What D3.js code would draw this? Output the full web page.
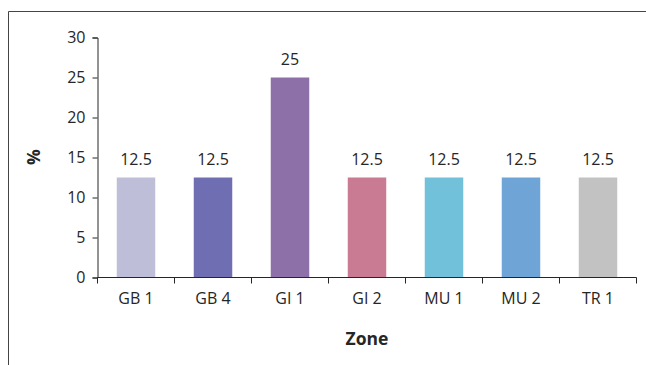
<!DOCTYPE html>
<html>
<head>
<meta charset="utf-8">
<script src="https://cdn.jsdelivr.net/npm/d3@7"></script>
<style>
  html, body { margin: 0; padding: 0; background: #fff; }
  svg { display: block; }
  text { font-family: "Open Sans", "Noto Sans", sans-serif; fill: #262626; }
</style>
</head>
<body>
<svg id="chart" width="646" height="365"></svg>
<script>
// Share of records per zone (%)
const zones = ["GB 1", "GB 4", "GI 1", "GI 2", "MU 1", "MU 2", "TR 1"];
const percents = [12.5, 12.5, 25, 12.5, 12.5, 12.5, 12.5];
const barColors = ["#bebed9", "#6f6eb3", "#8e70a8", "#c97b94", "#72c1da", "#6fa5d6", "#c2c2c2"];
const yTicks = [0, 5, 10, 15, 20, 25, 30];

const svg = d3.select("#chart");
const W = 646, H = 365;
const plot = { left: 97.5, right: 636.5, top: 37.5, bottom: 277.5 };
const labelSize = "16px";
const titleSize = "17.5px";

// outer frame: top and left edges only
svg.append("path")
  .attr("d", `M8.5,${H} V11.5 H${W}`)
  .attr("fill", "none")
  .attr("stroke", "#444")
  .attr("stroke-width", 1);

const x = d3.scaleBand().domain(zones).range([plot.left, plot.right]).padding(0);
const y = d3.scaleLinear().domain([0, 30]).range([plot.bottom, plot.top]);

// bars (half of each band, centered)
const barW = x.bandwidth() * 0.5;
svg.append("g").selectAll("rect")
  .data(zones)
  .join("rect")
  .attr("x", (d) => x(d) + (x.bandwidth() - barW) / 2)
  .attr("width", barW)
  .attr("y", (d, i) => y(percents[i]))
  .attr("height", (d, i) => y(0) - y(percents[i]))
  .attr("fill", (d, i) => barColors[i]);

// value labels
svg.append("g").selectAll("text")
  .data(zones)
  .join("text")
  .attr("x", (d) => x(d) + x.bandwidth() / 2)
  .attr("y", (d, i) => y(percents[i]) - 13)
  .attr("text-anchor", "middle")
  .style("font-size", labelSize)
  .text((d, i) => percents[i]);

// y axis
const yAxis = svg.append("g")
  .attr("transform", `translate(${plot.left},0)`)
  .call(d3.axisLeft(y).tickValues(yTicks).tickSize(5).tickPadding(7));
yAxis.selectAll("text").style("font-size", labelSize).attr("fill", "#262626");
yAxis.selectAll("line, path").attr("stroke", "#262626");

// x axis: ticks at band boundaries, labels centered in bands
const xAxisG = svg.append("g").attr("transform", `translate(0,${plot.bottom})`);
xAxisG.append("line")
  .attr("x1", plot.left).attr("x2", plot.right)
  .attr("stroke", "#262626");
const bounds = zones.map((d) => x(d)).concat([plot.right]);
xAxisG.selectAll("line.tick")
  .data(bounds)
  .join("line")
  .attr("class", "tick")
  .attr("x1", (d) => d).attr("x2", (d) => d)
  .attr("y1", 0).attr("y2", 6)
  .attr("stroke", "#262626");
xAxisG.selectAll("text")
  .data(zones)
  .join("text")
  .attr("x", (d) => x(d) + x.bandwidth() / 2)
  .attr("y", 26)
  .attr("text-anchor", "middle")
  .style("font-size", labelSize)
  .text((d) => d);

// axis titles
svg.append("text")
  .attr("x", (plot.left + plot.right) / 2)
  .attr("y", 345)
  .attr("text-anchor", "middle")
  .style("font-size", titleSize)
  .style("font-weight", "bold")
  .text("Zone");

svg.append("text")
  .attr("transform", `translate(40,157) rotate(-90)`)
  .attr("text-anchor", "middle")
  .style("font-size", titleSize)
  .style("font-weight", "bold")
  .text("%");
</script>
</body>
</html>
